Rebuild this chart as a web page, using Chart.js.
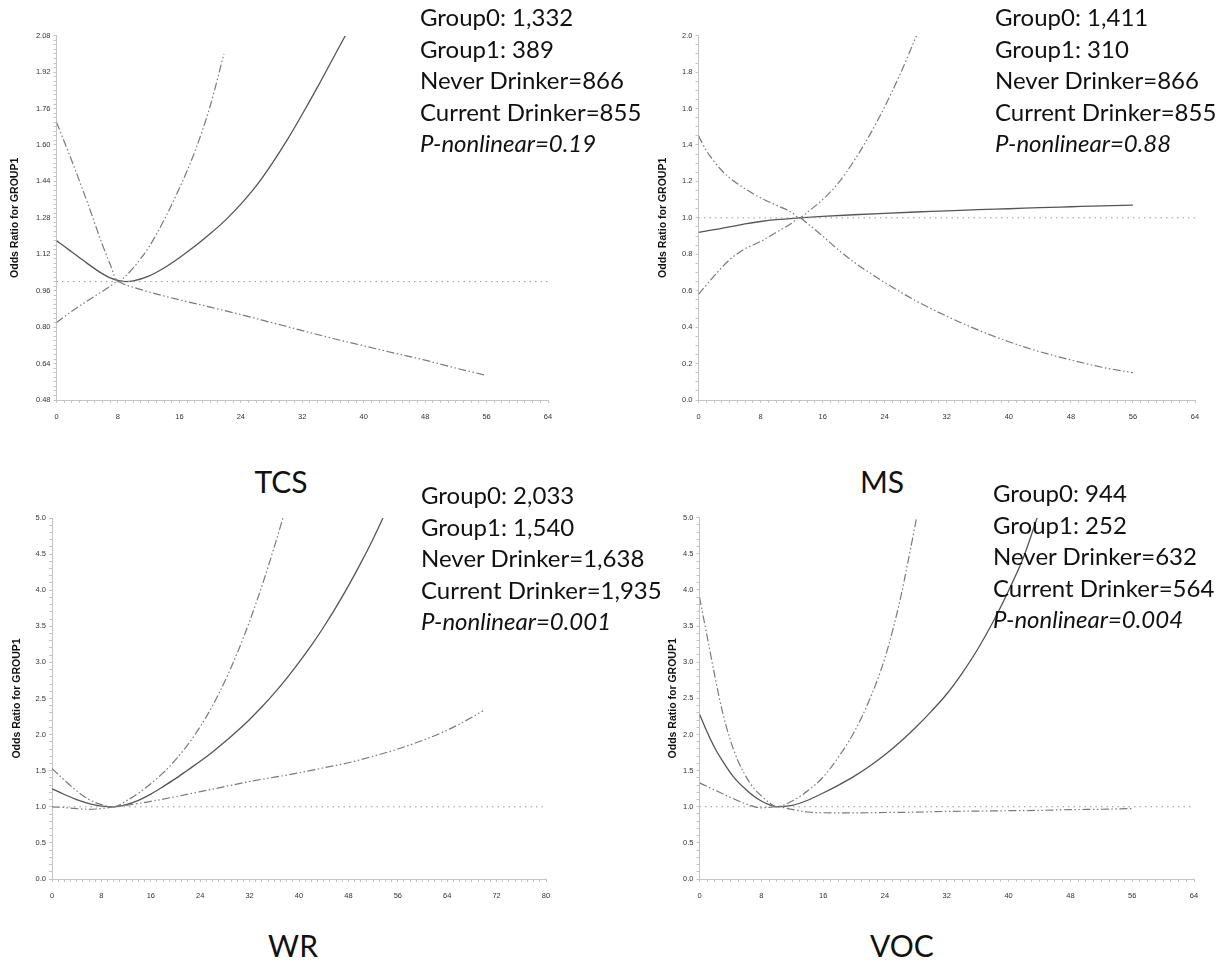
<!DOCTYPE html>
<html>
<head>
<meta charset="utf-8">
<title>Odds ratio splines</title>
<script src="https://cdn.jsdelivr.net/npm/chart.js@4.4.0/dist/chart.umd.min.js"></script>
<style>
  body { margin: 0; background: #fff; width: 1224px; height: 963px; position: relative; overflow: hidden; font-family: Lato, "Open Sans", sans-serif; }
  canvas { position: absolute; }
  .stats { position: absolute; font-size: 24px; line-height: 31.5px; color: #111; white-space: nowrap; }
  .stats .p { font-style: italic; }
  .name { position: absolute; font-size: 30px; line-height: 30px; color: #111; transform: translateX(-50%); white-space: nowrap; }
</style>
</head>
<body>
<canvas id="tcs"></canvas>
<canvas id="ms"></canvas>
<canvas id="wr"></canvas>
<canvas id="voc"></canvas>

<script>
// TCS
const tcsOrX = [0, 1, 2, 3, 4, 5, 6, 7, 8, 9, 10, 12, 14, 16, 18, 20, 22, 24, 26, 28, 30, 32, 34, 36, 37.6];
const tcsOr  = [1.18, 1.155, 1.13, 1.105, 1.08, 1.056, 1.034, 1.016, 1.005, 1.0, 1.003, 1.024, 1.06, 1.105, 1.155, 1.21, 1.27, 1.34, 1.42, 1.515, 1.62, 1.735, 1.855, 1.98, 2.08];
const tcsHiX = [0, 2, 4, 6, 7, 8, 9, 10, 12, 14, 16, 18, 20, 21.8];
const tcsHi  = [1.70, 1.53, 1.35, 1.16, 1.075, 1.0, 1.025, 1.06, 1.15, 1.27, 1.41, 1.57, 1.77, 2.0];
const tcsLoX = [0, 2, 4, 6, 7, 8, 9, 10, 12, 16, 20, 24, 28, 32, 36, 40, 44, 48, 52, 56];
const tcsLo  = [0.82, 0.87, 0.915, 0.958, 0.98, 1.0, 0.985, 0.975, 0.955, 0.92, 0.888, 0.855, 0.82, 0.785, 0.75, 0.718, 0.686, 0.655, 0.62, 0.588];
const tcsNotes = ['Group0: 1,332', 'Group1: 389', 'Never Drinker=866', 'Current Drinker=855', 'P-nonlinear=0.19'];

// MS
const msOrX = [0, 2, 4, 6, 8, 10, 13, 16, 20, 24, 28, 32, 36, 40, 44, 48, 52, 56];
const msOr  = [0.92, 0.935, 0.95, 0.967, 0.98, 0.99, 1.0, 1.008, 1.017, 1.025, 1.032, 1.038, 1.045, 1.05, 1.056, 1.061, 1.066, 1.07];
const msHiX = [0, 1, 2, 3, 4, 6, 8, 10, 12, 13, 14, 16, 18, 20, 22, 24, 26, 28.1];
const msHi  = [1.45, 1.37, 1.31, 1.26, 1.22, 1.16, 1.11, 1.07, 1.03, 1.0, 1.03, 1.10, 1.19, 1.31, 1.45, 1.61, 1.79, 2.0];
const msLoX = [0, 2, 4, 6, 8, 10, 12, 13, 14, 16, 18, 20, 22, 24, 28, 32, 36, 40, 44, 48, 52, 56];
const msLo  = [0.58, 0.68, 0.77, 0.83, 0.87, 0.92, 0.97, 1.0, 0.97, 0.90, 0.825, 0.758, 0.70, 0.645, 0.545, 0.46, 0.385, 0.32, 0.265, 0.22, 0.18, 0.15];
const msNotes = ['Group0: 1,411', 'Group1: 310', 'Never Drinker=866', 'Current Drinker=855', 'P-nonlinear=0.88'];

// WR
const wrOrX = [0, 2, 4, 6, 8, 10, 12, 14, 16, 18, 20, 22, 24, 26, 28, 30, 32, 34, 36, 38, 40, 42, 44, 46, 48, 50, 52, 53.6];
const wrOr  = [1.25, 1.17, 1.10, 1.045, 1.01, 1.0, 1.03, 1.09, 1.175, 1.28, 1.39, 1.51, 1.63, 1.76, 1.9, 2.05, 2.21, 2.385, 2.575, 2.78, 3.0, 3.235, 3.49, 3.765, 4.06, 4.375, 4.71, 5.0];
const wrHiX = [0, 2, 4, 6, 8, 10, 12, 14, 16, 18, 20, 22, 24, 26, 28, 30, 32, 34, 36, 37.4];
const wrHi  = [1.53, 1.37, 1.22, 1.10, 1.03, 1.0, 1.08, 1.19, 1.32, 1.47, 1.65, 1.86, 2.11, 2.4, 2.74, 3.13, 3.57, 4.06, 4.6, 5.0];
const wrLoX = [0, 2, 4, 6, 8, 10, 12, 16, 20, 24, 28, 32, 36, 40, 44, 48, 52, 56, 60, 64, 68, 69.8];
const wrLo  = [1.0, 0.99, 0.975, 0.965, 0.975, 1.0, 1.02, 1.075, 1.14, 1.21, 1.28, 1.35, 1.41, 1.47, 1.54, 1.61, 1.70, 1.80, 1.92, 2.06, 2.24, 2.33];
const wrNotes = ['Group0: 2,033', 'Group1: 1,540', 'Never Drinker=1,638', 'Current Drinker=1,935', 'P-nonlinear=0.001'];

// VOC
const vocOrX = [0, 1, 2, 3, 4, 5, 6, 7, 8, 9, 10, 12, 14, 16, 18, 20, 22, 24, 26, 28, 30, 32, 34, 36, 38, 40, 42, 43.7];
const vocOr  = [2.28, 2.03, 1.81, 1.63, 1.47, 1.34, 1.24, 1.15, 1.08, 1.03, 1.0, 1.02, 1.09, 1.19, 1.3, 1.42, 1.56, 1.72, 1.9, 2.1, 2.32, 2.56, 2.85, 3.18, 3.56, 3.99, 4.47, 5.0];
const vocHiX = [0, 1, 2, 3, 4, 5, 6, 7, 8, 9, 10, 12, 14, 16, 18, 20, 22, 24, 26, 27, 28.1];
const vocHi  = [3.9, 3.35, 2.8, 2.3, 1.92, 1.63, 1.42, 1.26, 1.15, 1.06, 1.0, 1.08, 1.22, 1.41, 1.69, 2.03, 2.48, 3.06, 3.88, 4.4, 5.0];
const vocLoX = [0, 2, 4, 6, 8, 10, 12, 14, 16, 20, 24, 28, 32, 36, 40, 44, 48, 52, 56];
const vocLo  = [1.33, 1.23, 1.13, 1.04, 0.985, 1.0, 0.963, 0.927, 0.917, 0.915, 0.92, 0.925, 0.935, 0.94, 0.945, 0.95, 0.96, 0.965, 0.975];
const vocNotes = ['Group0: 944', 'Group1: 252', 'Never Drinker=632', 'Current Drinker=564', 'P-nonlinear=0.004'];

// reference line OR = 1
const refY = [1, 1];

function pts(xs, ys) {
    return xs.map((x, i) => ({ x: x, y: ys[i] }));
}

const axisGrey = '#c4c4c4';
const tickFont = { family: 'Liberation Sans', size: 7.5 };
const ciDash = [8, 2.5, 1.5, 2.5, 1.5, 2.5];

function makePanel(p) {
    const cv = document.getElementById(p.id);
    const left = Math.round(p.titleCx - 6.3);
    const top = Math.round(p.top - 12);
    const w = Math.round(p.right + 14 - left);
    const h = Math.round(p.bottom + 30 - top);
    cv.width = w;
    cv.height = h;
    cv.style.left = left + 'px';
    cv.style.top = top + 'px';
    cv.style.width = w + 'px';
    cv.style.height = h + 'px';

    const yW = p.axisX - left;
    const padTop = p.top - top;

    new Chart(cv.getContext('2d'), {
        type: 'line',
        data: {
            datasets: [
                { data: pts([0, p.xMax], refY), borderColor: '#9a9a9a', borderWidth: 1, borderDash: [1.5, 4] },
                { data: pts(p.hiX, p.hi), borderColor: '#7a7a7a', borderWidth: 1.2, borderDash: ciDash },
                { data: pts(p.loX, p.lo), borderColor: '#7a7a7a', borderWidth: 1.2, borderDash: ciDash },
                { data: pts(p.orX, p.or), borderColor: '#555', borderWidth: 1.3 }
            ]
        },
        options: {
            responsive: false,
            animation: false,
            events: [],
            layout: { padding: { top: padTop, right: 14, left: 0, bottom: 0 } },
            plugins: { legend: { display: false }, tooltip: { enabled: false } },
            elements: {
                point: { radius: 0 },
                line: { cubicInterpolationMode: 'monotone', fill: false }
            },
            scales: {
                x: {
                    type: 'linear',
                    min: 0,
                    max: p.xMax,
                    ticks: {
                        stepSize: 1, autoSkip: false, maxRotation: 0, padding: 9,
                        color: '#333', font: tickFont,
                        callback: v => (v % 8 === 0 ? String(v) : '')
                    },
                    grid: { drawOnChartArea: false, tickLength: 3, color: axisGrey },
                    border: { color: axisGrey },
                    afterFit: s => { s.height = 30; }
                },
                y: {
                    type: 'linear',
                    min: p.yMin,
                    max: p.yMax,
                    ticks: {
                        stepSize: p.yStep, autoSkip: false, padding: 3,
                        color: '#333', font: tickFont,
                        callback: v => {
                            const k = (v - p.yMin) / p.yMajor;
                            return Math.abs(k - Math.round(k)) < 1e-6 ? v.toFixed(p.dec) : '';
                        }
                    },
                    grid: { drawOnChartArea: false, tickLength: 3, color: axisGrey },
                    border: { color: axisGrey },
                    title: {
                        display: true, text: 'Odds Ratio for GROUP1', color: '#111',
                        font: { family: 'Liberation Sans', size: 10.5, weight: 'bold' },
                        padding: { top: 0, bottom: 0 }
                    },
                    afterFit: s => { s.width = yW; }
                }
            }
        }
    });
}

function addNotes(lines, x, y) {
    const d = document.createElement('div');
    d.className = 'stats';
    d.style.left = x + 'px';
    d.style.top = y + 'px';
    lines.forEach((t, i) => {
        const l = document.createElement('div');
        l.textContent = t;
        if (i === lines.length - 1) l.className = 'p';
        d.appendChild(l);
    });
    document.body.appendChild(d);
}

function addName(text, cx, y) {
    const d = document.createElement('div');
    d.className = 'name';
    d.textContent = text;
    d.style.left = cx + 'px';
    d.style.top = y + 'px';
    document.body.appendChild(d);
}

makePanel({ id: 'tcs', titleCx: 15, axisX: 56.5, right: 547.5, top: 35.7, bottom: 400,
    xMax: 64, yMin: 0.48, yMax: 2.08, yStep: 0.02, yMajor: 0.16, dec: 2,
    orX: tcsOrX, or: tcsOr, hiX: tcsHiX, hi: tcsHi, loX: tcsLoX, lo: tcsLo });
makePanel({ id: 'ms', titleCx: 663, axisX: 698.5, right: 1194.5, top: 35.7, bottom: 400,
    xMax: 64, yMin: 0, yMax: 2.0, yStep: 0.05, yMajor: 0.2, dec: 1,
    orX: msOrX, or: msOr, hiX: msHiX, hi: msHi, loX: msLoX, lo: msLo });
makePanel({ id: 'wr', titleCx: 17, axisX: 52, right: 545.5, top: 518, bottom: 879,
    xMax: 80, yMin: 0, yMax: 5.0, yStep: 0.1, yMajor: 0.5, dec: 1,
    orX: wrOrX, or: wrOr, hiX: wrHiX, hi: wrHi, loX: wrLoX, lo: wrLo });
makePanel({ id: 'voc', titleCx: 673, axisX: 699.5, right: 1194, top: 517.7, bottom: 879,
    xMax: 64, yMin: 0, yMax: 5.0, yStep: 0.1, yMajor: 0.5, dec: 1,
    orX: vocOrX, or: vocOr, hiX: vocHiX, hi: vocHi, loX: vocLoX, lo: vocLo });

addNotes(tcsNotes, 420, 1);
addNotes(msNotes, 995, 1);
addNotes(wrNotes, 421, 479);
addNotes(vocNotes, 993, 477);

addName('TCS', 281, 466);
addName('MS', 882, 466);
addName('WR', 293, 930);
addName('VOC', 902, 930);
</script>
</body>
</html>
